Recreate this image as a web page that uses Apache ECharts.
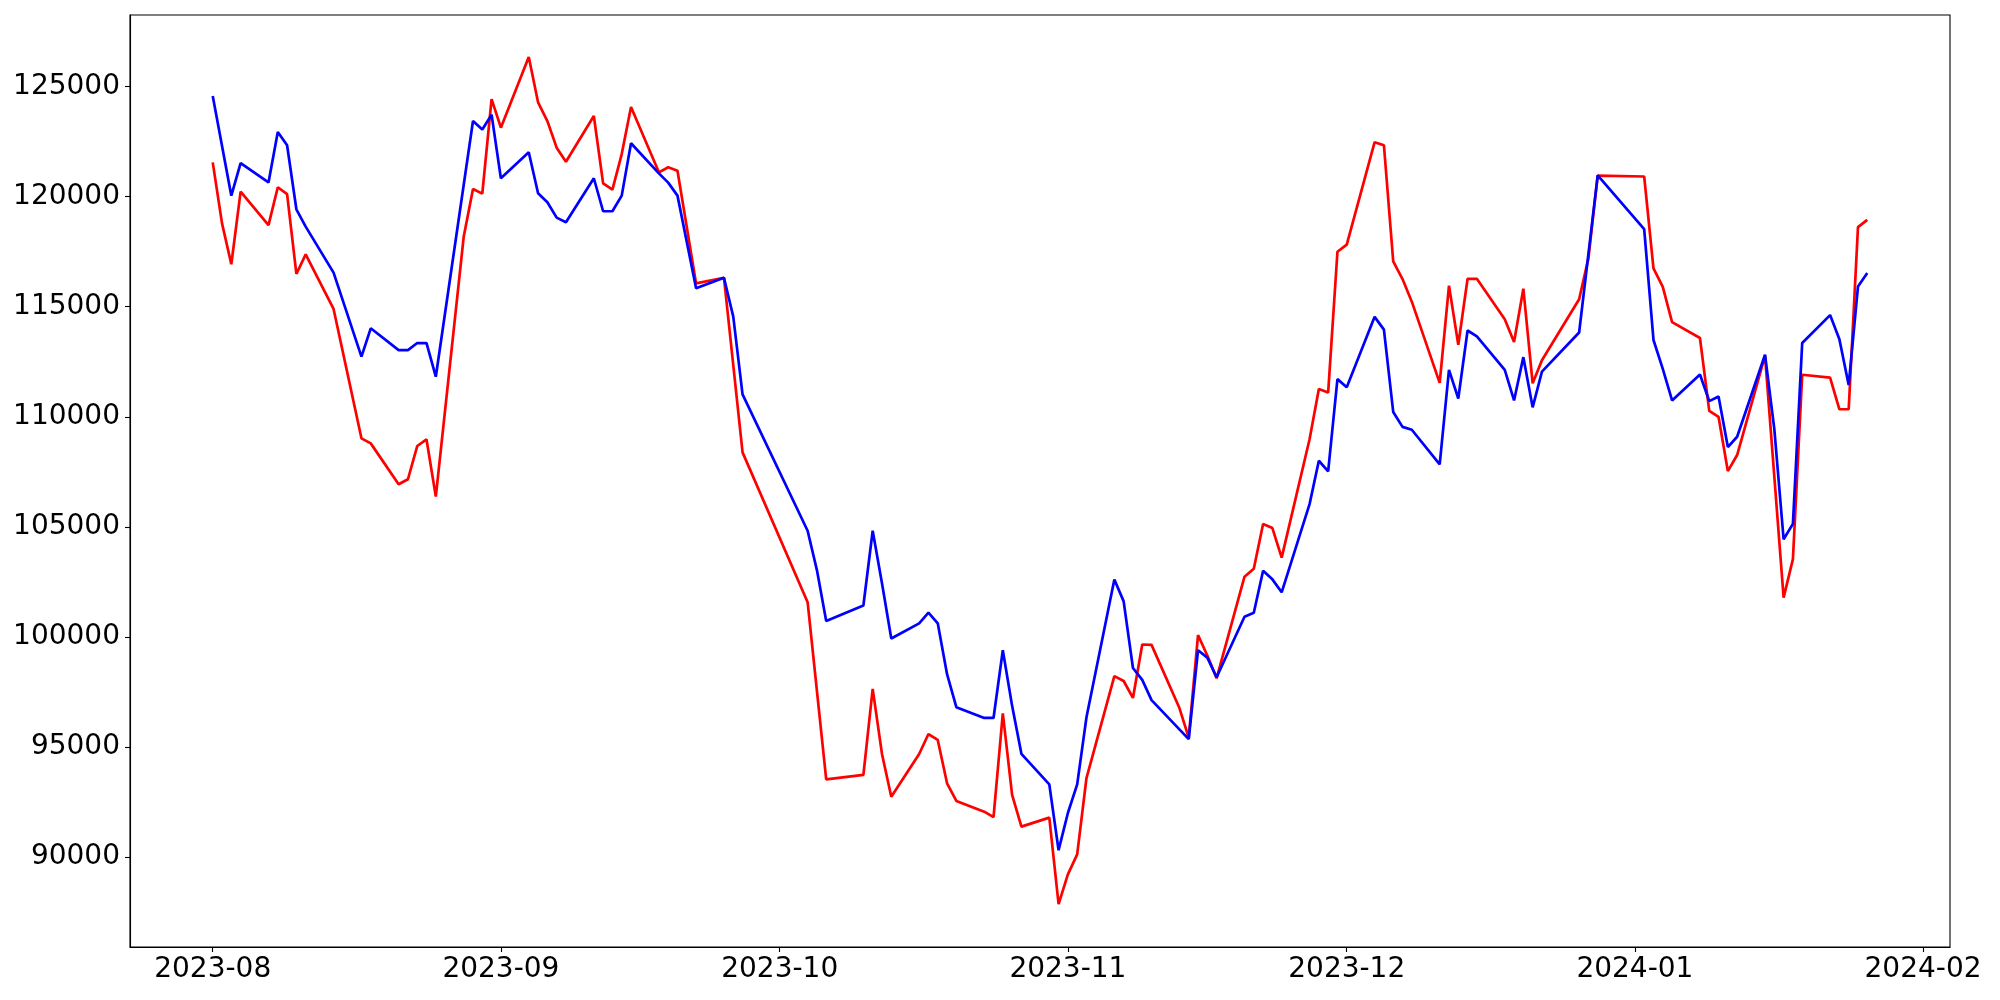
<!DOCTYPE html>
<html>
<head>
<meta charset="utf-8">
<script src="https://cdn.jsdelivr.net/npm/echarts@6/dist/echarts.min.js"></script>
<style>
  html, body { margin: 0; padding: 0; background: #fff; }
  #chart { width: 2000px; height: 1000px; }
</style>
</head>
<body>
<div id="chart"></div>
<script>
// Trading dates where the lines have visible vertices
const dates = [
  '2023-08-01','2023-08-02','2023-08-03','2023-08-04','2023-08-07','2023-08-08','2023-08-09','2023-08-10','2023-08-11',
  '2023-08-14','2023-08-17','2023-08-18','2023-08-21','2023-08-22','2023-08-23','2023-08-24','2023-08-25',
  '2023-08-28','2023-08-29','2023-08-30','2023-08-31','2023-09-01',
  '2023-09-04','2023-09-05','2023-09-06','2023-09-07','2023-09-08',
  '2023-09-11','2023-09-12','2023-09-13','2023-09-14','2023-09-15',
  '2023-09-18','2023-09-19','2023-09-20','2023-09-22',
  '2023-09-25','2023-09-26','2023-09-27',
  '2023-10-04','2023-10-05','2023-10-06',
  '2023-10-10','2023-10-11','2023-10-12','2023-10-13',
  '2023-10-16','2023-10-17','2023-10-18','2023-10-19','2023-10-20',
  '2023-10-23','2023-10-24','2023-10-25','2023-10-26','2023-10-27',
  '2023-10-30','2023-10-31','2023-11-01','2023-11-02','2023-11-03',
  '2023-11-06','2023-11-07','2023-11-08','2023-11-09','2023-11-10',
  '2023-11-13','2023-11-14','2023-11-15','2023-11-16','2023-11-17',
  '2023-11-20','2023-11-21','2023-11-22','2023-11-23','2023-11-24',
  '2023-11-27','2023-11-28','2023-11-29','2023-11-30','2023-12-01',
  '2023-12-04','2023-12-05','2023-12-06','2023-12-07','2023-12-08',
  '2023-12-11','2023-12-12','2023-12-13','2023-12-14','2023-12-15',
  '2023-12-18','2023-12-19','2023-12-20','2023-12-21','2023-12-22',
  '2023-12-26','2023-12-27','2023-12-28',
  '2024-01-02','2024-01-03','2024-01-04','2024-01-05',
  '2024-01-08','2024-01-09','2024-01-10','2024-01-11','2024-01-12',
  '2024-01-15','2024-01-16','2024-01-17','2024-01-18','2024-01-19',
  '2024-01-22','2024-01-23','2024-01-24','2024-01-25','2024-01-26'
];

const redValues = [
  121560,118790,116930,120230,118710,120430,120120,116490,117380,
  114900,109020,108790,106930,107160,108670,108970,106370,
  118180,120350,120140,124440,123140,
  126350,124290,123440,122230,121590,
  123670,120610,120320,121940,124080,
  121110,121340,121180,116060,
  116320,null,108380,
  101570,null,93520,
  93720,97630,94670,92730,
  94670,95580,95310,93340,92540,
  92050,91800,96520,92810,91370,
  91780,87845,89200,90110,93580,
  98210,97990,97220,99650,99630,
  96760,95420,100080,99150,98110,
  102730,103090,105130,104940,103600,
  108980,111260,111100,117500,117820,
  122480,122340,117060,116260,115230,
  111540,115960,113270,116270,116270,
  114430,113400,115820,111520,112570,
  115340,117200,120960,
  120920,116740,115900,114300,
  113580,110270,109990,107530,108260,
  112780,null,101780,103530,111910,
  111780,110340,110340,118620,118950
];

const blueValues = [
  124580,null,120050,121530,120650,122940,122340,119430,118640,
  116550,112730,114020,113030,113030,113350,113350,111820,
  null,123440,123060,123730,120840,
  122020,120160,119750,119050,118840,
  120840,119340,119340,120050,122430,
  121060,120640,120050,115840,
  116320,114550,111020,
  104820,103030,100720,
  101420,104820,102430,99920,
  100610,101100,100610,98300,96800,
  96310,96310,99390,96860,94680,
  93290,90300,91990,93290,96340,
  102600,101610,98580,98040,97120,
  null,95350,99390,99050,98160,
  100910,101090,103000,102610,102020,
  106030,108000,107520,111710,111340,
  114540,113960,110220,109540,109410,
  107840,112130,110830,113920,113650,
  112130,110740,112710,110430,112050,
  113830,null,120970,
  118530,113490,112180,110740,
  111920,110710,110920,108620,109090,
  112820,109440,104430,105130,113350,
  114620,113520,111440,115920,116530
];

const xTickDates = ['2023-08-01','2023-09-01','2023-10-01','2023-11-01','2023-12-01','2024-01-01','2024-02-01'];
const yTickValues = [90000, 95000, 100000, 105000, 110000, 115000, 120000, 125000];

function parseDate(s) {
  const p = s.split('-').map(Number);
  return Date.UTC(p[0], p[1] - 1, p[2]);
}
function pad(n) { return (n < 10 ? '0' : '') + n; }

const redData = dates.map((d, i) => [parseDate(d), redValues[i]]);
const blueData = dates.map((d, i) => [parseDate(d), blueValues[i]]);
const xTicks = xTickDates.map(parseDate);

const chart = echarts.init(document.getElementById('chart'), null, { renderer: 'canvas' });
const FONT = 'DejaVu Sans';
chart.setOption({
  animation: false,
  backgroundColor: '#ffffff',
  grid: {
    left: 130, right: 50, top: 15, bottom: 53,
    show: true, borderColor: '#000', borderWidth: 1.1, backgroundColor: 'transparent'
  },
  xAxis: {
    type: 'value',
    min: Date.UTC(2023, 6, 23, 2, 24),
    max: Date.UTC(2024, 1, 3, 21, 36),
    axisLine: { show: true, onZero: false, lineStyle: { color: '#000', width: 1.1 } },
    axisTick: { show: true, customValues: xTicks, length: 5, lineStyle: { color: '#000', width: 1.1 } },
    axisLabel: {
      customValues: xTicks,
      fontFamily: FONT, fontSize: 28, color: '#000', margin: 9,
      formatter: function (v) { const d = new Date(v); return d.getUTCFullYear() + '-' + pad(d.getUTCMonth() + 1); }
    },
    splitLine: { show: false }
  },
  yAxis: {
    type: 'value',
    min: 85900, max: 128260,
    axisLine: { show: true, onZero: false, lineStyle: { color: '#000', width: 1.1 } },
    axisTick: { show: true, customValues: yTickValues, length: 5, lineStyle: { color: '#000', width: 1.1 } },
    axisLabel: {
      customValues: yTickValues,
      fontFamily: FONT, fontSize: 28, color: '#000', margin: 10,
      formatter: function (v) { return String(v); }
    },
    splitLine: { show: false }
  },
  series: [
    {
      type: 'line', data: redData, connectNulls: true, showSymbol: false,
      lineStyle: { color: '#ff0000', width: 2.7 }, itemStyle: { color: '#ff0000' }
    },
    {
      type: 'line', data: blueData, connectNulls: true, showSymbol: false,
      lineStyle: { color: '#0000ff', width: 2.7 }, itemStyle: { color: '#0000ff' }
    }
  ]
});
</script>
</body>
</html>
